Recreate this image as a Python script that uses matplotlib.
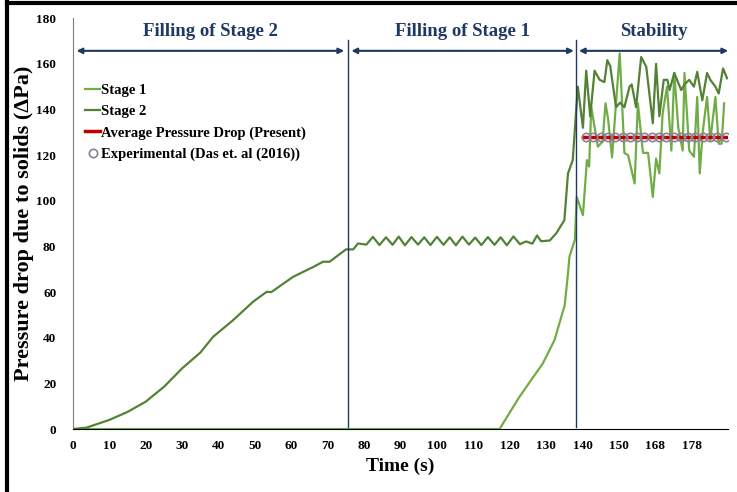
import matplotlib.pyplot as plt
from matplotlib.lines import Line2D

# x is the category position on the time axis (Excel category axis)
tick_pos = [0, 10, 20, 30, 40, 50, 60, 70, 80, 90, 100, 110, 120, 130, 140, 150, 160, 170]
tick_lab = ["0", "10", "20", "30", "40", "50", "60", "70", "80", "90", "100", "110",
            "120", "130", "140", "150", "168", "178"]

stage2_x = [0, 3.7, 10, 15, 20, 25, 30, 35, 38.5, 44, 49.5, 53.2, 54.5, 60.5, 66, 68.7,
            70.5, 75, 77, 78.3,
            80.6, 82.4, 84.2, 86.0, 87.8, 89.5, 91.2, 93.0, 94.8, 96.5, 98.2, 100.0, 101.8,
            103.5, 105.2, 107.0, 108.8, 110.5, 112.2, 114.0, 115.8, 117.5, 119.2, 121.0,
            122.8, 124.5, 126.2, 127.5, 128.6, 131.0, 132.8, 135.0, 136.0, 137.3,
            138.7, 140.1, 141.0, 142.1, 143.3, 144.7, 146.0, 146.8, 147.6, 149.2, 150.3,
            151.5, 152.9, 153.5, 154.7, 156.1, 157.5, 159.3, 160.2, 161.1, 162.3, 163.3,
            163.9, 165.2, 167.1, 168.0, 169.3, 170.6, 171.5, 172.9, 174.2, 175.1, 176.5,
            177.4, 178.6, 179.7]
stage2_y = [0, 0.6, 4, 7.5, 12, 18.5, 26.6, 33.5, 40.4, 47.7, 55.8, 60.1, 60, 66.7, 71, 73.3,
            73.3, 78.7, 78.7, 81.3,
            80.8, 84.2, 80.6, 84.0, 80.7, 84.3, 80.5, 84.1, 80.8, 84.0, 80.6, 84.2, 80.7,
            84.0, 80.5, 84.3, 80.8, 83.9, 80.6, 84.1, 80.7, 84.0, 80.5, 84.4, 81.0, 82.2,
            81.2, 84.8, 82.3, 82.6, 85.8, 91.5, 112, 117.8,
            150, 132, 157, 137, 157, 153, 152, 161.6, 159, 141, 143,
            141, 150, 151, 141, 163, 158.7, 134, 160, 137, 153, 153,
            148.5, 156, 148.5, 151, 153, 150, 156.5, 144, 156, 153, 150,
            147, 158, 153.7]

stage1_x = [0, 117.2, 122.7, 129.1, 132.3, 135.1, 136.0, 136.4, 137.3, 137.9, 138.4, 140.1,
            141.2, 141.8, 142.4, 144.2, 145.5, 146.3, 147.0, 148.1, 150.2, 151.5, 152.5,
            154.3, 155.2, 156.6, 158.0, 159.3, 160.2, 161.1, 162.0, 163.2, 164.4, 165.2,
            166.3, 167.5, 168.0, 169.3, 170.6, 171.5, 172.2, 173.0, 174.2, 175.1, 176.5,
            177.4, 178.2, 178.9]
stage1_y = [0, 0, 14.2, 28.8, 39, 54.3, 68.2, 75.5, 80, 83, 101.7, 93.7,
            117.8, 115, 141, 123.7, 126, 142.7, 136, 119, 164.6, 121, 120,
            107.6, 142.7, 121, 121, 101.7, 118.5, 112, 138.3, 150, 122, 156,
            132, 122, 156, 122, 119.3, 145.5, 112, 130, 145.5, 126.6, 145.5,
            125, 125, 142.7]

avg_x = [140, 179.5]
avg_y = [128, 128]
exp_x = [141, 143, 145, 147, 149, 151, 153, 155, 157, 159, 161, 163, 165, 167, 169,
         171, 173, 175, 177, 179.3]
exp_y = [128] * 20

phase_bounds = [75.5, 138.3]
phase_names = ["Filling of Stage 2", "Filling of Stage 1", "Stability"]
phase_spans = [(1, 74.5), (76.5, 137.6), (139, 180)]

navy = "#1f3864"
plt.rcParams['font.family'] = ['Liberation Serif', 'DejaVu Serif']
plt.rcParams['font.weight'] = 'bold'

fig = plt.figure(figsize=(7.37, 4.92), dpi=100)
ax = fig.add_axes([0.099, 0.128, 0.889, 0.835])

ax.plot(stage1_x, stage1_y, color="#70ad47", lw=1.6, label="Stage 1")
ax.plot(stage2_x, stage2_y, color="#548235", lw=1.6, label="Stage 2")
ax.plot(avg_x, avg_y, color="#c00000", lw=2.5, label="Average Pressure Drop (Present)")
ax.plot(exp_x, exp_y, ls="none", marker="o", ms=6, mfc="none", mec="#8e7f93", mew=1.2,
        label="Experimental (Das et. al (2016))")

for b in phase_bounds:
    ax.axvline(b, ymin=0.005, ymax=0.946, color=navy, lw=1)

for name, (a, b) in zip(phase_names, phase_spans):
    ax.annotate("", xy=(a, 165.7), xytext=(b, 165.7),
                arrowprops=dict(arrowstyle="<|-|>", color=navy, lw=1.5,
                                mutation_scale=8, shrinkA=0, shrinkB=0))
    ax.text((a + b) / 2, 174, name, ha="center", va="center", color=navy,
            fontsize=13.5, fontweight="bold")

ax.set_xlim(0, 180)
ax.set_ylim(0, 180)
ax.set_xticks(tick_pos)
ax.set_xticklabels(tick_lab)
ax.set_yticks(range(0, 181, 20))
ax.tick_params(length=0, labelsize=9.5, pad=8)
ax.tick_params(axis="y", pad=12)
for s in ["top", "right"]:
    ax.spines[s].set_visible(False)
ax.spines["left"].set_color("#7f7f7f")
ax.spines["bottom"].set_color("black")

ax.set_xlabel("Time (s)", fontsize=14, fontweight="bold", labelpad=4)
ax.set_ylabel("Pressure drop due to solids (\u0394Pa)", fontsize=16, fontweight="bold",
              labelpad=2)

ax.legend(loc="upper left", bbox_to_anchor=(0.01, 0.855), frameon=False, fontsize=10.5,
          handlelength=1.0, handletextpad=0.1, labelspacing=0.55, borderaxespad=0)

# black frame on left and top of the image
fig.add_artist(Line2D([0.009, 0.009], [0, 0.995], color="black", lw=3))
fig.add_artist(Line2D([0.009, 1.0], [0.994, 0.994], color="black", lw=3))

fig.savefig("out.png", dpi=100)
